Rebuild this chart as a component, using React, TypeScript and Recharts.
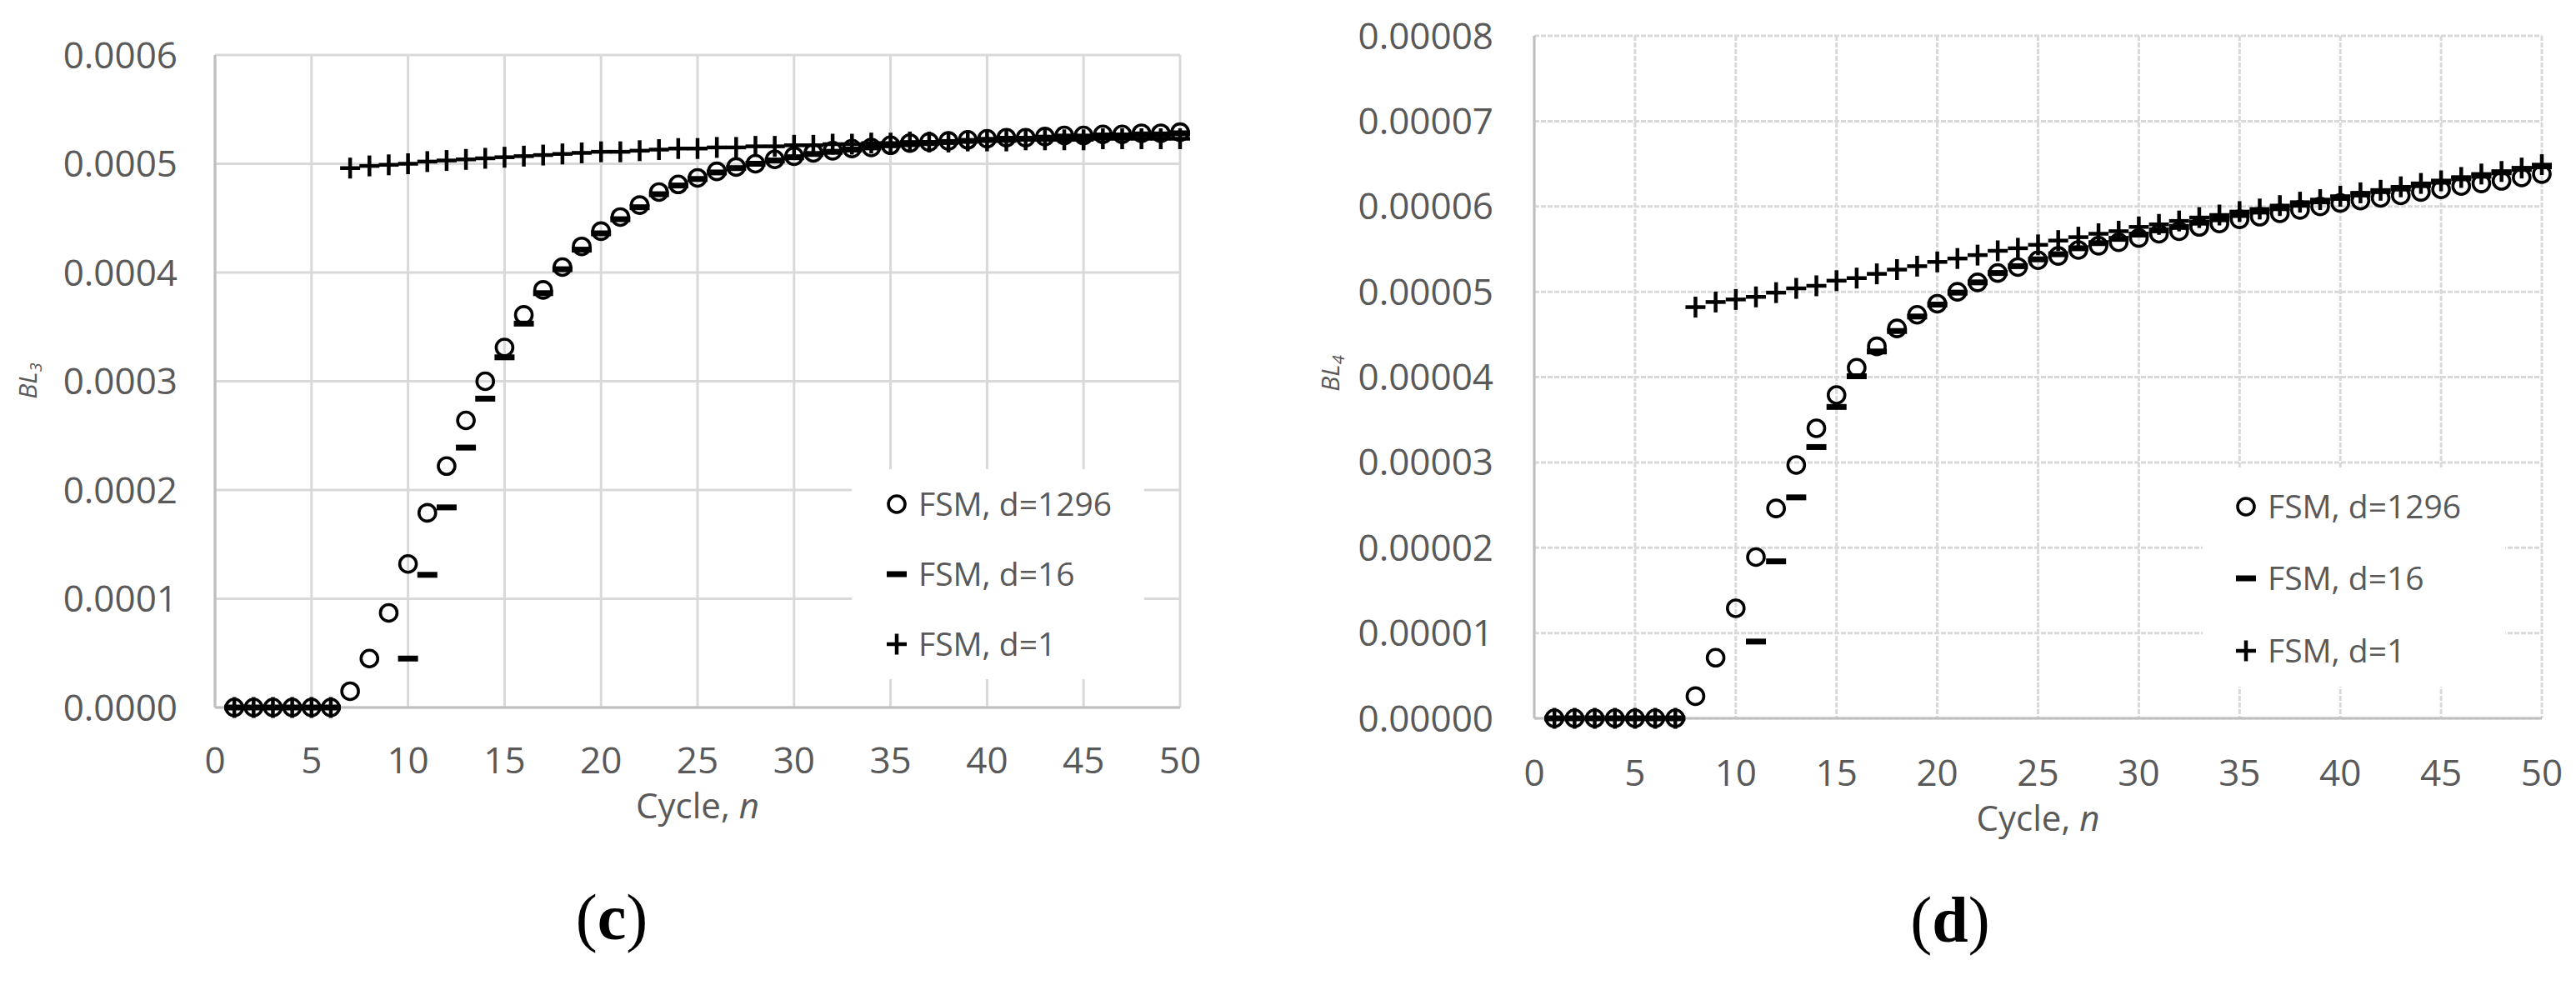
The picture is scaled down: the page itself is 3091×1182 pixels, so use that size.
import React from 'react';
import { ScatterChart, Scatter, XAxis, YAxis, CartesianGrid, Legend, Label } from 'recharts';

// ---------- data ----------
const cycles = [1,2,3,4,5,6,7,8,9,10,11,12,13,14,15,16,17,18,19,20,21,22,23,24,25,26,27,28,29,30,31,32,33,34,35,36,37,38,39,40,41,42,43,44,45,46,47,48,49,50];

// panel (c): BL3
const bl3_d1296 = [0,0,0,0,0,0,0.15e-4,0.45e-4,0.87e-4,1.32e-4,1.79e-4,2.22e-4,2.64e-4,3.00e-4,3.31e-4,3.61e-4,3.84e-4,4.05e-4,4.24e-4,4.38e-4,4.51e-4,4.62e-4,4.74e-4,4.81e-4,4.87e-4,4.93e-4,4.97e-4,5.00e-4,5.04e-4,5.07e-4,5.10e-4,5.12e-4,5.14e-4,5.15e-4,5.17e-4,5.19e-4,5.20e-4,5.21e-4,5.22e-4,5.23e-4,5.24e-4,5.24e-4,5.25e-4,5.26e-4,5.26e-4,5.27e-4,5.27e-4,5.28e-4,5.28e-4,5.29e-4];
const bl3_d16 = [0,0,0,0,0,0,null,null,null,0.45e-4,1.22e-4,1.84e-4,2.39e-4,2.84e-4,3.22e-4,3.53e-4,3.81e-4,4.03e-4,4.21e-4,4.36e-4,4.49e-4,4.60e-4,4.72e-4,4.80e-4,4.86e-4,4.92e-4,4.96e-4,5.00e-4,5.03e-4,5.06e-4,5.09e-4,5.11e-4,5.13e-4,5.15e-4,5.17e-4,5.18e-4,5.19e-4,5.20e-4,5.21e-4,5.22e-4,5.23e-4,5.23e-4,5.24e-4,5.25e-4,5.25e-4,5.26e-4,5.26e-4,5.27e-4,5.27e-4,5.28e-4];
const bl3_d1 = [0,0,0,0,0,0,4.96e-4,4.98e-4,4.99e-4,5.00e-4,5.02e-4,5.03e-4,5.04e-4,5.05e-4,5.06e-4,5.07e-4,5.08e-4,5.09e-4,5.10e-4,5.11e-4,5.11e-4,5.12e-4,5.13e-4,5.14e-4,5.14e-4,5.15e-4,5.15e-4,5.16e-4,5.16e-4,5.17e-4,5.17e-4,5.18e-4,5.18e-4,5.19e-4,5.19e-4,5.20e-4,5.20e-4,5.20e-4,5.21e-4,5.21e-4,5.21e-4,5.22e-4,5.22e-4,5.22e-4,5.22e-4,5.23e-4,5.23e-4,5.23e-4,5.23e-4,5.23e-4];

// panel (d): BL4
const bl4_d1296 = [0,0,0,0,0,0,0,0.26e-5,0.71e-5,1.29e-5,1.89e-5,2.46e-5,2.97e-5,3.40e-5,3.79e-5,4.11e-5,4.36e-5,4.57e-5,4.73e-5,4.86e-5,5.00e-5,5.11e-5,5.22e-5,5.29e-5,5.37e-5,5.42e-5,5.49e-5,5.54e-5,5.58e-5,5.63e-5,5.68e-5,5.71e-5,5.76e-5,5.80e-5,5.85e-5,5.88e-5,5.92e-5,5.96e-5,6.00e-5,6.04e-5,6.07e-5,6.10e-5,6.13e-5,6.17e-5,6.20e-5,6.24e-5,6.27e-5,6.30e-5,6.34e-5,6.38e-5];
const bl4_d16 = [0,0,0,0,0,0,0,null,null,null,0.90e-5,1.84e-5,2.59e-5,3.18e-5,3.65e-5,4.01e-5,4.30e-5,4.54e-5,4.71e-5,4.85e-5,4.99e-5,5.11e-5,5.22e-5,5.30e-5,5.38e-5,5.44e-5,5.51e-5,5.57e-5,5.62e-5,5.67e-5,5.72e-5,5.76e-5,5.81e-5,5.85e-5,5.90e-5,5.94e-5,5.98e-5,6.02e-5,6.06e-5,6.10e-5,6.14e-5,6.18e-5,6.21e-5,6.25e-5,6.29e-5,6.33e-5,6.36e-5,6.40e-5,6.44e-5,6.47e-5];
const bl4_d1 = [0,0,0,0,0,0,0,4.82e-5,4.88e-5,4.91e-5,4.94e-5,4.99e-5,5.04e-5,5.07e-5,5.13e-5,5.16e-5,5.21e-5,5.26e-5,5.30e-5,5.35e-5,5.39e-5,5.43e-5,5.48e-5,5.51e-5,5.55e-5,5.60e-5,5.64e-5,5.68e-5,5.71e-5,5.76e-5,5.79e-5,5.83e-5,5.87e-5,5.90e-5,5.94e-5,5.97e-5,6.01e-5,6.05e-5,6.08e-5,6.12e-5,6.16e-5,6.19e-5,6.23e-5,6.27e-5,6.30e-5,6.34e-5,6.38e-5,6.41e-5,6.45e-5,6.49e-5];

const seriesNames = ['FSM, d=1296', 'FSM, d=16', 'FSM, d=1'];
const xTicks = [0, 5, 10, 15, 20, 25, 30, 35, 40, 45, 50];
const yTicksC = [0, 0.0001, 0.0002, 0.0003, 0.0004, 0.0005, 0.0006];
const yTicksD = [0, 0.00001, 0.00002, 0.00003, 0.00004, 0.00005, 0.00006, 0.00007, 0.00008];

const toPoints = (vals: (number | null)[]) =>
  cycles.map((n, i) => ({ x: n, y: vals[i] })).filter((p) => p.y !== null);

// ---------- styling ----------
const FONT = '"Open Sans", "Noto Sans", sans-serif';
const GRAY = '#595959';
const GRID = '#d9d9d9';
const AXIS = '#bfbfbf';

const CircleShape = (p: any) =>
  p.cx == null ? <g /> : <circle cx={p.cx} cy={p.cy} r={10} fill="none" stroke="#000" strokeWidth={3.6} />;
const DashShape = (p: any) =>
  p.cx == null ? <g /> : <rect x={p.cx - 12} y={p.cy - 3.5} width={24} height={7} fill="#000" />;
const PlusShape = (p: any) =>
  p.cx == null ? (
    <g />
  ) : (
    <g stroke="#000" strokeWidth={4.5}>
      <line x1={p.cx - 12} x2={p.cx + 12} y1={p.cy} y2={p.cy} />
      <line x1={p.cx} x2={p.cx} y1={p.cy - 12.5} y2={p.cy + 12.5} />
    </g>
  );
const shapes = [CircleShape, DashShape, PlusShape];

type PanelProps = {
  left: number;
  width: number;
  plotLeft: number;
  plotRight: number;
  plotTop: number;
  plotBottom: number;
  yTicks: number[];
  digits: number;
  yLabelX: number;
  yLabelY: number;
  sub: string;
  yTickGap: number;
  xTickGap: number;
  xTitleY: number;
  legendBox: { left: number; top: number; width: number; height: number; rows: number[]; markerX: number; textX: number };
  series: (number | null)[][];
  dashed: boolean;
};

function Panel(props: PanelProps) {
  const H = 1182;
  const yAxisW = 200;
  const xAxisH = 80;
  const margin = {
    top: props.plotTop,
    left: props.plotLeft - yAxisW,
    right: props.width - props.plotRight,
    bottom: H - props.plotBottom - xAxisH,
  };
  const lb = props.legendBox;
  const legendContent = (lp: any) => (
    <svg width={lb.width} height={lb.height} style={{ display: 'block', background: '#fff' }}>
      {(lp.payload || []).map((e: any, i: number) => {
        const idx = seriesNames.indexOf(e.value);
        const Shape = shapes[idx >= 0 ? idx : i];
        const cy = lb.rows[idx >= 0 ? idx : i];
        return (
          <g key={i}>
            <Shape cx={lb.markerX} cy={cy} />
            <text x={lb.textX} y={cy + 14} fill={GRAY} fontFamily={FONT} fontSize={39}>
              {e.value}
            </text>
          </g>
        );
      })}
    </svg>
  );
  const plotCenter = (props.plotLeft + props.plotRight) / 2;
  return (
    <div style={{ position: 'absolute', left: props.left, top: 0 }}>
      <ScatterChart width={props.width} height={H} margin={margin}>
        <CartesianGrid stroke={GRID} strokeWidth={3} strokeDasharray={props.dashed ? '6 2' : undefined} />
        <XAxis
          type="number"
          dataKey="x"
          domain={[0, 50]}
          ticks={xTicks}
          interval={0}
          height={xAxisH}
          axisLine={{ stroke: AXIS, strokeWidth: 3 }}
          tickLine={false}
          tickSize={0}
          tickMargin={props.xTickGap}
          tick={{ fill: GRAY, fontSize: 44, fontFamily: FONT }}
        >
          <Label
            content={() => (
              <text x={plotCenter} y={props.xTitleY} textAnchor="middle" fill={GRAY} fontFamily={FONT} fontSize={42}>
                Cycle, <tspan fontStyle="italic">n</tspan>
              </text>
            )}
          />
        </XAxis>
        <YAxis
          type="number"
          dataKey="y"
          domain={[props.yTicks[0], props.yTicks[props.yTicks.length - 1]]}
          ticks={props.yTicks}
          interval={0}
          width={yAxisW}
          axisLine={{ stroke: AXIS, strokeWidth: 3 }}
          tickLine={false}
          tickSize={0}
          tickMargin={props.yTickGap}
          tickFormatter={(v: number) => v.toFixed(props.digits)}
          tick={{ fill: GRAY, fontSize: 44, fontFamily: FONT }}
        >
          <Label
            content={() => (
              <text
                transform={`translate(${props.yLabelX},${props.yLabelY}) rotate(-90)`}
                textAnchor="middle"
                fill={GRAY}
                fontFamily={FONT}
                fontSize={30}
                fontStyle="italic"
              >
                BL
                <tspan fontSize={20} dy={6}>
                  {props.sub}
                </tspan>
              </text>
            )}
          />
        </YAxis>
        <Legend
          layout="vertical"
          align="center"
          verticalAlign="middle"
          content={legendContent}
          wrapperStyle={{ left: lb.left, top: lb.top, width: lb.width, height: lb.height, background: '#fff' }}
        />
        {props.series.map((vals, i) => (
          <Scatter
            key={seriesNames[i]}
            name={seriesNames[i]}
            data={toPoints(vals)}
            shape={shapes[i]}
            fill="#000"
            isAnimationActive={false}
          />
        ))}
      </ScatterChart>
    </div>
  );
}

export default function App() {
  return (
    <div style={{ position: 'absolute', left: 0, top: 0, width: 3091, height: 1182, background: '#fff' }}>
      <Panel
        left={0}
        width={1545}
        plotLeft={258}
        plotRight={1416}
        plotTop={66}
        plotBottom={849}
        yTicks={yTicksC}
        digits={4}
        yLabelX={44}
        yLabelY={457}
        sub="3"
        yTickGap={45}
        xTickGap={48}
        xTitleY={982}
        legendBox={{ left: 1022, top: 563, width: 351, height: 252, rows: [42, 126, 210], markerX: 54, textX: 80 }}
        series={[bl3_d1296, bl3_d16, bl3_d1]}
        dashed={false}
      />
      <Panel
        left={1545}
        width={1546}
        plotLeft={296}
        plotRight={1505}
        plotTop={43}
        plotBottom={862}
        yTicks={yTicksD}
        digits={5}
        yLabelX={62}
        yLabelY={448}
        sub="4"
        yTickGap={49}
        xTickGap={50}
        xTitleY={997}
        legendBox={{ left: 1098, top: 561, width: 363, height: 263, rows: [47, 133, 220], markerX: 52, textX: 78 }}
        series={[bl4_d1296, bl4_d16, bl4_d1]}
        dashed={true}
      />
      <svg width={3091} height={1182} style={{ position: 'absolute', left: 0, top: 0, pointerEvents: 'none' }}>
        <text x={734} y={1127} textAnchor="middle" fontFamily='"Liberation Serif", "DejaVu Serif", serif' fontSize={78} fill="#000">
          (<tspan fontWeight="bold">c</tspan>)
        </text>
        <text x={2340} y={1130} textAnchor="middle" fontFamily='"Liberation Serif", "DejaVu Serif", serif' fontSize={78} fill="#000">
          (<tspan fontWeight="bold">d</tspan>)
        </text>
      </svg>
    </div>
  );
}
